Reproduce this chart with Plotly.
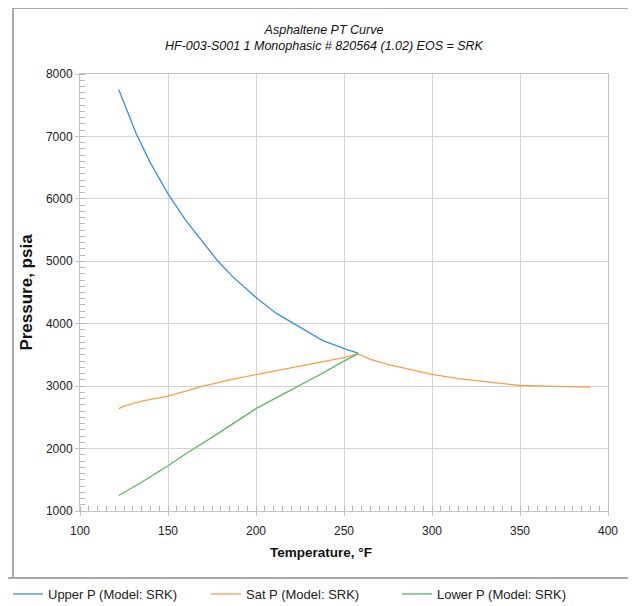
import plotly.graph_objects as go

# ---- data ----
upper_T = [122, 127, 132, 140, 150, 160, 168, 178.4, 187, 200, 211.6, 223, 238, 251, 258]
upper_P = [7750, 7390, 7040, 6576, 6080, 5660, 5375, 5000, 4746, 4420, 4165, 3975, 3730, 3594, 3530]

sat_T = [122, 125, 135, 150, 170, 185, 200, 212, 225, 238, 250, 258, 265, 276, 290, 300, 315, 327, 340, 350, 365, 378, 390]
sat_P = [2641, 2680, 2760, 2841, 3000, 3100, 3186, 3250, 3320, 3400, 3455, 3515, 3430, 3342, 3250, 3187, 3120, 3080, 3040, 3010, 3000, 2995, 2985]

lower_T = [122, 135, 150, 163, 175, 190, 200, 212, 224.4, 238, 250, 258]
lower_P = [1249, 1460, 1725, 1970, 2180, 2460, 2640, 2820, 3000, 3210, 3400, 3520]

series_names = ["Upper P (Model: SRK)", "Sat P (Model: SRK)", "Lower P (Model: SRK)"]
series_colors = ["#3d8fd6", "#f7a046", "#5cb85c"]

title_lines = ["Asphaltene PT Curve", "HF-003-S001 1 Monophasic # 820564 (1.02) EOS = SRK"]
x_title = "Temperature, °F"
y_title = "Pressure, psia"
x_ticks = [100, 150, 200, 250, 300, 350, 400]
y_ticks = [1000, 2000, 3000, 4000, 5000, 6000, 7000, 8000]

FONT = "Liberation Sans, Arial, sans-serif"
# the page body adds an 8px margin, so the figure is 8px smaller than the window
W, H = 628, 598

legend_ids = ["legend", "legend2", "legend3"]
legend_x_px = [0, 198, 389]  # left edge of each legend entry, figure px

fig = go.Figure()
for T, P, name, col, lg in zip([upper_T, sat_T, lower_T], [upper_P, sat_P, lower_P],
                               series_names, series_colors, legend_ids):
    fig.add_trace(go.Scatter(x=T, y=P, mode="lines", name=name, legend=lg,
                             line=dict(color=col, width=1.3)))

grid = "#d4d4d4"
axis_common = dict(
    showline=True, linecolor="#c4c4c4", linewidth=1, mirror=True,
    showgrid=True, gridcolor=grid, gridwidth=1.2,
    ticks="outside", ticklen=4, tickcolor="#c4c4c4",
    tickfont=dict(family=FONT, size=12, color="#222222"),
    zeroline=False, automargin=True,
)

legend_common = dict(orientation="h", xref="container", yref="container",
                     xanchor="left", y=1 - 586 / H, yanchor="middle", itemwidth=30,
                     font=dict(family=FONT, size=13, color="#222222"),
                     bgcolor="rgba(0,0,0,0)")

fig.update_layout(
    template="none",
    width=W, height=H,
    paper_bgcolor="white", plot_bgcolor="white",
    margin=dict(l=72, r=28, t=66, b=95, autoexpand=False),
    title=dict(
        text=title_lines[0] + "<br>" + title_lines[1],
        x=0.5 + 2 / W, xref="container", xanchor="center",
        y=1 - 26 / H, yref="container", yanchor="top",
        font=dict(family=FONT, size=12.5, color="#111111", style="italic"),
    ),
    xaxis=dict(range=[100, 400], tickvals=x_ticks, ticklabelstandoff=5, **axis_common,
               minor=dict(ticks="inside", ticklen=5, dtick=5, tickcolor="#b8b8b8", showgrid=False)),
    yaxis=dict(range=[1000, 8000], tickvals=y_ticks, **axis_common,
               minor=dict(ticks="inside", ticklen=5, dtick=100, tickcolor="#b8b8b8", showgrid=False),
               title=dict(text=y_title, standoff=8,
                          font=dict(family=FONT, size=17, color="#111111", weight="bold"))),
    showlegend=True,
    legend=dict(x=legend_x_px[0] / W, **legend_common),
    legend2=dict(x=legend_x_px[1] / W, **legend_common),
    legend3=dict(x=legend_x_px[2] / W, **legend_common),
)

# x-axis title (centred on the whole chart, as in the reference)
fig.add_annotation(text=x_title, xref="paper", yref="paper",
                   x=(321 - 80) / 528.0, y=(511 - 552) / 437.0,
                   xanchor="center", yanchor="middle", showarrow=False,
                   font=dict(family=FONT, size=13.5, color="#111111", weight="bold"))

# outer frame lines (paper coords: x 0..1 -> window px 80..608, y 0..1 -> window px 511..74)
def px_x(p):
    return (p - 80) / 528.0

def px_y(p):
    return (511 - p) / 437.0

frame = dict(color="#a8a8a8", width=2)
fig.add_shape(type="line", xref="paper", yref="paper", x0=px_x(13), x1=px_x(640), y0=px_y(8), y1=px_y(8), line=frame)
fig.add_shape(type="line", xref="paper", yref="paper", x0=px_x(13), x1=px_x(13), y0=px_y(8), y1=px_y(578), line=frame)
fig.add_shape(type="line", xref="paper", yref="paper", x0=px_x(0), x1=px_x(640), y0=px_y(578), y1=px_y(578), line=frame)

fig.write_html("out.html")
